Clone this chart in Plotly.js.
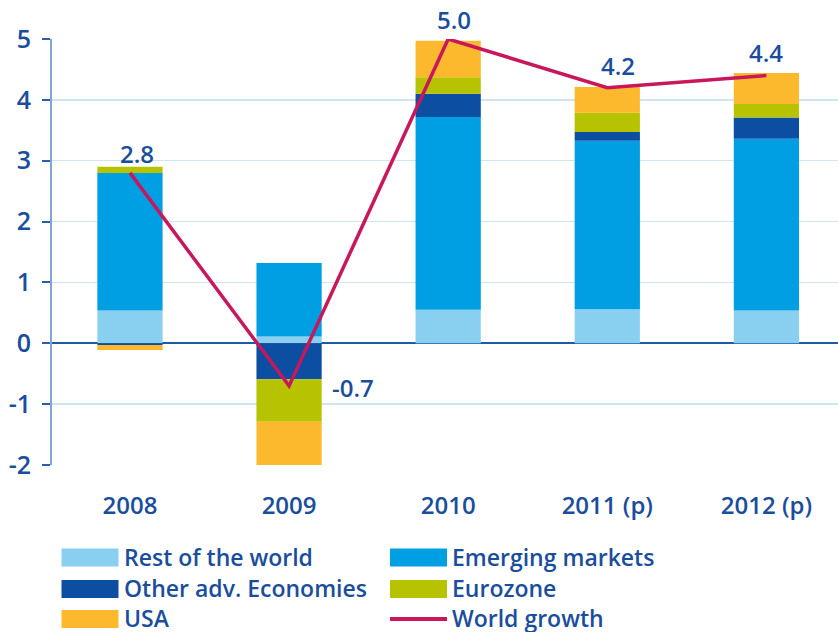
<!DOCTYPE html>
<html>
<head>
<meta charset="utf-8">
<script src="https://cdn.plot.ly/plotly-3.0.1.min.js"></script>
<style>html,body{margin:0;padding:0;background:#fff}#chart{width:838px;height:632px}</style>
</head>
<body>
<div id="chart"></div>
<script>
// ---- data ----
const categories = ["2008", "2009", "2010", "2011 (p)", "2012 (p)"];
const restOfWorld = [0.54, 0.11, 0.55, 0.56, 0.54];
const emergingMarkets = [2.26, 1.21, 3.17, 2.77, 2.82];
const otherAdvEconomies = [-0.03, -0.59, 0.38, 0.14, 0.35];
const eurozone = [0.10, -0.70, 0.27, 0.32, 0.22];
const usa = [-0.08, -0.74, 0.60, 0.42, 0.51];
const worldGrowth = [2.8, -0.7, 5.0, 4.2, 4.4];
const worldGrowthLabels = ["2.8", "-0.7", "5.0", "4.2", "4.4"];
const yTickValues = [-2, -1, 0, 1, 2, 3, 4, 5];

// ---- styles ----
const TXT = "#1a4e9d";
const FONT = "'Open Sans', sans-serif";
const WEIGHT = 600;
const colors = {
  row: "#89cff0", em: "#009fe3", oth: "#0b4ea2", euro: "#b8c300", usa: "#fdb92e", line: "#c8175d"
};
const labelShift = [[7, 19], [64, -2], [6, 20], [11, 22], [0, 23]];

const W = 838, H = 632, ML = 52, MR = 0, MT = 39, MB = 167;
const PW = W - ML - MR, PH = H - MT - MB;
const px = x => (x - ML) / PW;
const py = y => (H - MB - y) / PH;

const barW = 0.41;
function barTrace(name, vals, color) {
  return {type: "bar", name: name, x: categories, y: vals, width: barW,
    marker: {color: color, line: {width: 0}}, hoverinfo: "y+name"};
}
const traces = [
  barTrace("Rest of the world", restOfWorld, colors.row),
  barTrace("Emerging markets", emergingMarkets, colors.em),
  barTrace("Other adv. Economies", otherAdvEconomies, colors.oth),
  barTrace("Eurozone", eurozone, colors.euro),
  barTrace("USA", usa, colors.usa),
  {type: "scatter", mode: "lines", name: "World growth", x: categories, y: worldGrowth,
   line: {color: colors.line, width: 3.5}, cliponaxis: false}
];

const annotations = categories.map((c, i) => ({
  x: i, y: worldGrowth[i], xref: "x", yref: "y", text: worldGrowthLabels[i],
  showarrow: false, xanchor: "center", yanchor: "middle",
  xshift: labelShift[i][0], yshift: labelShift[i][1],
  font: {family: FONT, size: 24, color: TXT, weight: WEIGHT}
}));

// custom legend
const legendItems = [
  {name: "Rest of the world", color: colors.row, col: 0, row: 0, kind: "box"},
  {name: "Emerging markets", color: colors.em, col: 1, row: 0, kind: "box"},
  {name: "Other adv. Economies", color: colors.oth, col: 0, row: 1, kind: "box"},
  {name: "Eurozone", color: colors.euro, col: 1, row: 1, kind: "box"},
  {name: "USA", color: colors.usa, col: 0, row: 2, kind: "box"},
  {name: "World growth", color: colors.line, col: 1, row: 2, kind: "line"}
];
const colX = [61.5, 390];
const swW = 57, swH = 18;
const textX = [122, 450];
const rowMid = [557.5, 589, 619];
const shapes = [];
legendItems.forEach(it => {
  const x0 = colX[it.col], x1 = x0 + swW;
  const yc = rowMid[it.row], y0 = yc - swH / 2, y1 = yc + swH / 2;
  if (it.kind === "box") {
    shapes.push({type: "rect", xref: "paper", yref: "paper", x0: px(x0), x1: px(x1), y0: py(y1), y1: py(y0),
      fillcolor: it.color, line: {width: 0}});
  } else {
    shapes.push({type: "line", xref: "paper", yref: "paper", x0: px(x0), x1: px(x1), y0: py(yc), y1: py(yc),
      line: {color: it.color, width: 4}});
  }
  annotations.push({xref: "paper", yref: "paper", x: px(textX[it.col]), y: py(yc - 1), text: it.name,
    showarrow: false, xanchor: "left", yanchor: "middle",
    font: {family: FONT, size: 23, color: TXT, weight: WEIGHT}});
});

const layout = {
  width: W, height: H,
  margin: {l: ML, r: MR, t: MT, b: MB, pad: 0, autoexpand: false},
  paper_bgcolor: "#fff", plot_bgcolor: "#fff",
  barmode: "relative", showlegend: false,
  font: {family: FONT, color: TXT},
  xaxis: {type: "category", range: [-0.49, 4.45], showgrid: false, zeroline: false, showline: false,
    ticks: "", tickfont: {family: FONT, size: 24, color: TXT, weight: WEIGHT}, ticklabelstandoff: 24},
  yaxis: {range: [-2, 5], tickvals: yTickValues, ticktext: yTickValues.map(String),
    showgrid: true, gridcolor: "#cfe6f1", gridwidth: 1.5,
    zeroline: true, zerolinecolor: "#1f5aa6", zerolinewidth: 2,
    showline: true, linecolor: "#7fa6d6", linewidth: 2,
    ticks: "outside", ticklen: 8, tickwidth: 2, tickcolor: "#2a5ea8",
    tickfont: {family: FONT, size: 25, color: TXT, weight: WEIGHT}, ticklabelstandoff: 6},
  shapes: shapes, annotations: annotations
};

Plotly.newPlot("chart", traces, layout, {displayModeBar: false, staticPlot: true});
</script>
</body>
</html>
